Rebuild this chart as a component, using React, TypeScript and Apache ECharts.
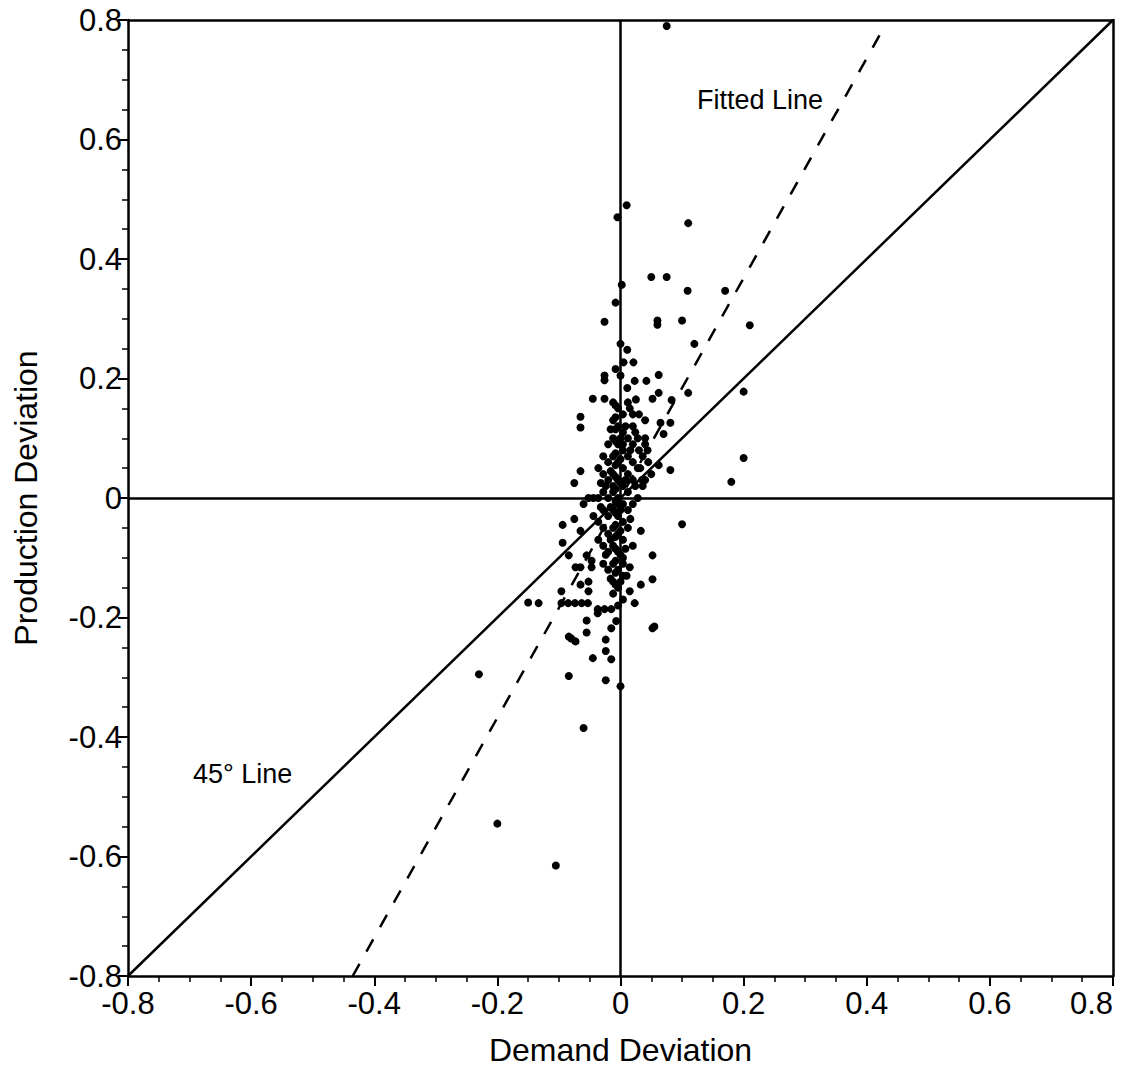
import React, { useEffect, useRef } from "react";
import * as echarts from "echarts";

const outliers: number[][] = [
  [0.075, 0.79], [-0.005, 0.47], [0.01, 0.49], [0.11, 0.46], [0.05, 0.37], [0.075, 0.37],
  [0.109, 0.347], [0.17, 0.347], [0.21, 0.289], [-0.008, 0.327], [-0.026, 0.295], [0.06, 0.297],
  [0.06, 0.29], [0.1, 0.297], [0.12, 0.258], [0.002, 0.357], [0.2, 0.178], [0.2, 0.067],
  [0.18, 0.027], [0.1, -0.044], [0.11, 0.176], [0.081, 0.047], [-0.23, -0.295], [-0.2, -0.545],
  [-0.105, -0.615], [-0.06, -0.385], [0.055, -0.215], [-0.15, -0.175], [0.0, -0.315],
  [-0.024, -0.305], [-0.084, -0.298], [-0.08, -0.235],
];
const mid: number[][] = [
  [0, 0.258], [0.011, 0.248], [0.005, 0.227], [0.021, 0.227], [-0.008, 0.216], [-0.026, 0.205],
  [-0.026, 0.197], [0, 0.205], [0.023, 0.196], [0.042, 0.196], [0.062, 0.206], [0.062, 0.176],
  [-0.045, 0.166], [-0.026, 0.166], [0.011, 0.184], [0.052, 0.166], [0.083, 0.164], [-0.065, 0.136],
  [-0.065, 0.118], [0.081, 0.126], [0.065, 0.126], [0.07, 0.107], [0.062, 0.055], [-0.065, 0.045],
  [-0.075, 0.025], [0.052, -0.096], [0.052, -0.136], [0.052, -0.218], [0.033, -0.055], [0.033, -0.145],
  [0.023, -0.176], [0.015, -0.116], [0.015, -0.156], [-0.133, -0.176], [-0.096, -0.156],
  [-0.096, -0.176], [-0.085, -0.176], [-0.074, -0.176], [-0.063, -0.176], [-0.053, -0.176],
  [-0.094, -0.045], [-0.075, -0.035], [-0.094, -0.075], [-0.084, -0.096], [-0.065, -0.055],
  [-0.073, -0.116], [-0.065, -0.116], [-0.055, -0.096], [-0.047, -0.105], [-0.047, -0.116],
  [-0.065, -0.145], [-0.052, -0.14], [-0.052, -0.156], [-0.055, -0.205], [-0.055, -0.225],
  [-0.084, -0.232], [-0.073, -0.24], [-0.024, -0.237], [-0.024, -0.256], [-0.045, -0.268],
  [-0.015, -0.218], [-0.015, -0.27], [-0.007, -0.206], [-0.037, -0.186], [-0.026, -0.186],
  [-0.015, -0.186], [-0.037, -0.193], [0.04, 0.1], [0.03, 0.08], [0.045, 0.06], [0.05, 0.04],
  [0.035, 0.03], [0.02, 0.12], [0.03, 0.14], [0.04, 0.13], [0.015, 0.15], [0.025, 0.165],
];
const core: number[][] = [
  [-0.012, 0.16], [-0.004, 0.15], [0.004, 0.14], [-0.012, 0.13], [-0.004, 0.12], [0.004, 0.11],
  [-0.012, 0.1], [-0.004, 0.09], [0.004, 0.08], [-0.012, 0.07], [-0.004, 0.06], [0.004, 0.05],
  [-0.012, 0.04], [-0.004, 0.03], [0.004, 0.02], [-0.012, 0.01], [-0.004, 0.0], [0.004, -0.01],
  [-0.012, -0.02], [-0.004, -0.03], [0.004, -0.04], [-0.012, -0.05], [-0.004, -0.06], [0.004, -0.07],
  [-0.012, -0.08], [-0.004, -0.09], [0.004, -0.1], [-0.012, -0.11], [-0.004, -0.12], [0.004, -0.13],
  [-0.012, -0.14], [-0.004, -0.15], [-0.012, 0.02], [0.004, 0.09], [-0.004, -0.01], [0.004, -0.11],
  [-0.02, 0.09], [-0.02, 0.06], [-0.02, 0.03], [-0.02, 0.0], [-0.02, -0.03], [-0.02, -0.06],
  [-0.02, -0.09], [-0.02, -0.12], [-0.028, 0.07], [-0.028, 0.04], [-0.028, 0.01], [-0.028, -0.02],
  [-0.028, -0.05], [-0.028, -0.08], [-0.028, -0.11], [-0.036, 0.05], [-0.036, 0.0], [-0.036, -0.04],
  [-0.036, -0.07], [-0.044, 0.0], [-0.044, -0.03], [-0.052, 0.0], [-0.06, -0.01],
  [0.012, 0.1], [0.012, 0.07], [0.012, 0.04], [0.012, 0.01], [0.012, -0.02], [0.012, -0.05],
  [0.02, 0.09], [0.02, 0.06], [0.02, 0.03], [0.02, -0.01], [0.02, -0.08], [0.028, 0.1],
  [0.028, 0.05], [0.028, 0.0], [0.036, 0.07], [0.036, 0.02], [0.044, 0.08], [0.012, 0.16],
  [0.02, 0.14], [-0.012, -0.16], [0.004, -0.17], [-0.004, -0.18], [0.01, -0.13],
  [-0.008, 0.155], [-0.008, 0.135], [-0.008, 0.115], [-0.008, 0.095], [-0.008, 0.075], [-0.008, 0.055],
  [-0.008, 0.035], [-0.008, 0.015], [-0.008, -0.005], [-0.008, -0.025], [-0.008, -0.045], [-0.008, -0.065],
  [-0.008, -0.085], [-0.008, -0.105], [-0.008, -0.125], [-0.008, -0.145], [0.0, 0.1], [0.0, 0.065],
  [0.0, 0.025], [0.0, -0.02], [0.0, -0.055], [0.0, -0.095], [0.0, -0.14], [-0.016, 0.115],
  [-0.016, 0.045], [-0.016, -0.015], [-0.016, -0.07], [-0.016, -0.135], [-0.024, 0.02], [-0.024, -0.095],
  [-0.032, -0.015], [-0.032, 0.025], [0.008, 0.12], [0.008, 0.03], [0.008, -0.085], [0.016, 0.08],
  [0.016, -0.035], [0.024, 0.02], [0.024, 0.11], [0.032, 0.05], [0.04, 0.03], [0.04, 0.09],
];
const fittedLine: number[][] = [[-0.435, -0.8], [0.425, 0.782]];
const line45: number[][] = [[-0.8, -0.8], [0.8, 0.8]];

const font = "Liberation Sans, Arial, sans-serif";

export default function App() {
  const ref = useRef<HTMLDivElement>(null);
  useEffect(() => {
    const chart = echarts.init(ref.current!, null, { renderer: "svg" });
    const labelFmt = (v: number) => (Math.abs(v) < 1e-9 ? "0" : String(Math.round(v * 10) / 10));
    const lineStyle = { color: "#000", width: 2.5 };
    const mainAxis = (name: string, gap: number, extra: any) => ({
      type: "value" as const, min: -0.8, max: 0.8, interval: 0.2,
      name, nameLocation: "middle" as const, nameGap: gap,
      nameTextStyle: { fontSize: 32, fontFamily: font, color: "#000" },
      axisLine: { show: true, onZero: false, lineStyle },
      axisTick: { show: true, length: 10, lineStyle: { color: "#000", width: 2 } },
      minorTick: { show: true, splitNumber: 4, length: 6, lineStyle: { color: "#000", width: 1.5 } },
      splitLine: { show: false },
      axisLabel: { color: "#000", fontSize: 31, fontFamily: font, formatter: labelFmt, margin: 6, ...extra },
    });
    const frameAxis = {
      type: "value" as const, min: -0.8, max: 0.8, interval: 0.2,
      axisLine: { show: true, onZero: false, lineStyle },
      axisTick: { show: false }, minorTick: { show: false }, axisLabel: { show: false }, splitLine: { show: false },
    };
    chart.setOption({
      animation: false,
      grid: { left: 128, right: 9, top: 20, bottom: 93, outerBoundsMode: "none", containLabel: false },
      xAxis: [mainAxis("Demand Deviation", 58, { alignMaxLabel: "right", margin: 12 }), { ...frameAxis, position: "top" }],
      yAxis: [mainAxis("Production Deviation", 86, {}), { ...frameAxis, position: "right" }],
      series: [
        {
          type: "line", data: line45, symbol: "none", lineStyle: { color: "#000", width: 2.5 },
          markLine: {
            silent: true, symbol: "none", label: { show: false },
            lineStyle: { color: "#000", width: 2.5, type: "solid" },
            data: [{ xAxis: 0 }, { yAxis: 0 }],
          },
        },
        { type: "line", data: fittedLine, symbol: "none", lineStyle: { color: "#000", width: 2.5, type: [14, 14] } },
        {
          type: "scatter", data: [...outliers, ...mid, ...core], symbolSize: 8,
          itemStyle: { color: "#000", opacity: 1 },
        },
      ],
      graphic: [
        { type: "text", left: 697, top: 86, style: { text: "Fitted Line", fontSize: 27, fontFamily: font, fill: "#000" } },
        { type: "text", left: 193, top: 760, style: { text: "45° Line", fontSize: 27, fontFamily: font, fill: "#000" } },
      ],
    });
    return () => chart.dispose();
  }, []);
  return <div ref={ref} style={{ position: "absolute", left: 0, top: 0, width: 1122, height: 1069 }} />;
}
